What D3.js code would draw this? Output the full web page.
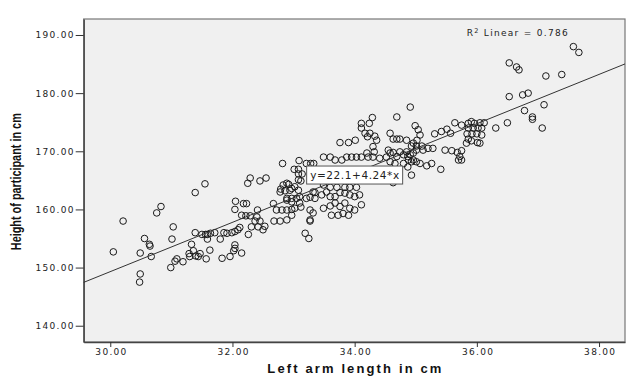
<!DOCTYPE html>
<html>
<head>
<meta charset="utf-8">
<script src="https://cdn.jsdelivr.net/npm/d3@7"></script>
<style>
body { margin: 0; background: #fff; }
</style>
</head>
<body>
<svg id="chart" width="641" height="384"></svg>
<script>
// left arm length (cm) and height (cm), one pair per participant
var armLength = [
  31.55,31.39,30.83,30.76,30.21,31.03,31.39,31.50,31.56,31.59,31.64,31.71,31.86,30.56,31.01,31.59,31.80,30.64,30.65,31.33,
  30.05,30.49,30.67,31.29,31.36,31.40,31.47,31.63,31.09,31.06,31.19,31.57,31.83,30.99,30.49,30.48,31.30,31.44,31.96,
  32.82,33.09,33.21,33.28,33.33,33.01,33.08,33.14,32.29,32.45,32.55,32.25,32.89,32.92,33.08,33.12,32.79,32.86,32.97,33.02,
  33.08,32.89,32.97,33.05,33.10,33.21,33.27,33.35,32.05,32.18,32.23,32.67,32.04,32.41,32.72,32.81,32.89,32.97,33.02,33.10,
  33.12,33.32,32.15,32.22,32.29,32.40,32.97,32.37,32.45,32.68,32.78,33.27,32.31,32.42,32.53,32.50,32.12,32.09,32.04,31.91,
  31.99,32.26,33.19,33.25,32.04,32.04,32.02,32.15,
  34.91,34.69,34.29,34.24,34.11,34.11,34.17,34.25,34.21,34.33,34.36,33.76,33.90,34.01,34.58,34.63,34.69,34.74,34.30,34.32,
  34.20,34.55,34.58,34.74,34.80,34.85,34.91,34.96,35.01,33.49,33.60,33.68,33.79,33.87,33.95,34.03,34.11,34.22,34.30,34.41,
  34.58,34.66,34.80,34.88,34.93,35.01,33.08,34.93,34.63,32.83,32.78,32.94,33.49,33.60,33.71,33.84,33.92,34.03,33.32,33.35,
  33.46,33.54,33.60,33.68,33.76,33.84,33.92,34.00,34.08,32.89,32.97,33.49,33.60,33.68,33.76,33.84,33.92,34.00,34.11,33.27,
  33.27,32.89,33.62,33.73,33.81,33.90,
  36.53,36.53,36.50,34.99,35.04,35.07,35.02,34.96,34.85,35.31,35.42,35.51,35.57,35.64,35.75,35.86,35.91,35.96,36.05,36.12,
  36.31,35.86,35.94,36.02,36.00,35.92,35.84,35.86,35.91,36.01,35.83,34.93,35.01,35.10,35.12,35.20,35.28,35.48,35.59,35.68,
  35.75,35.72,35.75,35.70,34.63,34.87,34.69,34.52,35.07,35.18,35.26,35.41,34.87,34.96,
  37.58,37.67,36.65,36.69,37.13,37.39,36.75,36.84,37.10,36.78,36.91,36.91,37.07,36.08,36.08,36.05
];
var heightCm = [
  164.4,162.9,160.5,159.4,158.0,157.0,156.0,155.7,155.7,155.7,155.9,156.0,156.0,155.0,154.9,154.9,154.9,154.0,153.7,154.0,
  152.7,152.5,151.9,152.4,152.9,152.0,152.4,153.0,151.5,151.1,151.0,151.5,151.6,150.0,148.9,147.5,151.9,151.9,151.9,
  167.9,168.4,167.9,167.9,167.9,166.9,166.1,166.1,165.4,164.9,165.4,164.5,164.5,164.3,165.1,164.9,163.5,163.2,163.6,163.9,
  163.3,161.9,161.9,161.9,162.2,161.9,162.1,162.9,161.4,161.0,161.0,161.0,160.0,159.9,159.9,159.9,159.9,160.0,160.2,161.1,
  160.4,159.4,159.0,158.9,158.9,158.7,159.0,158.0,158.0,158.0,158.0,158.0,157.0,157.0,157.1,156.5,156.9,156.5,156.2,155.9,
  156.0,155.7,155.9,155.0,153.9,153.3,152.9,152.5,
  177.6,175.9,175.8,174.8,174.8,174.0,173.1,173.1,172.5,172.6,171.9,171.5,171.5,171.9,173.1,172.1,172.1,172.1,170.8,169.9,
  169.7,170.2,169.7,169.9,169.4,169.9,169.4,169.7,170.2,169.0,169.0,168.5,168.5,169.0,169.0,169.0,169.0,169.0,169.0,168.8,
  168.2,167.9,167.9,168.5,168.2,168.2,166.9,165.9,164.6,164.2,163.0,163.3,164.2,163.8,163.8,163.8,163.8,163.8,163.0,161.9,
  162.5,163.0,162.2,162.2,162.9,162.8,162.5,162.2,162.5,161.6,161.3,160.2,160.6,161.1,160.5,161.1,160.2,159.9,160.8,159.9,
  158.2,158.2,159.0,159.0,159.3,159.0,
  185.2,179.4,174.9,174.4,173.7,172.8,171.9,171.4,171.9,173.0,173.4,173.8,173.1,174.9,174.5,174.8,175.1,174.8,174.9,174.9,
  174.0,174.0,174.0,174.0,173.0,173.0,173.0,172.1,171.8,171.5,171.4,170.9,170.9,170.9,170.2,170.5,170.5,170.2,170.1,169.8,
  170.1,169.1,168.5,168.5,169.8,169.1,169.1,169.0,167.9,167.5,167.9,166.9,167.3,168.5,
  188.0,187.0,184.5,184.0,182.95,183.2,179.7,180.0,178.0,177.0,175.9,175.5,174.0,174.0,172.8,171.4
];
var xTicks = [30, 32, 34, 36, 38];
var yTicks = [140, 150, 160, 170, 180, 190];
var intercept = 22.1, slope = 4.24, rSquared = 0.786;

var points = armLength.map(function (d, i) { return { x: d, y: heightCm[i] }; });

var plotL = 83.7, plotR = 625, plotT = 19, plotB = 342;
var svg = d3.select('#chart');

var x = d3.scaleLinear().domain([29.565, 38.425]).range([plotL, plotR]);
var y = d3.scaleLinear().domain([137.2, 192.75]).range([plotB, plotT]);

// plot area
svg.append('rect')
  .attr('x', plotL).attr('y', plotT)
  .attr('width', plotR - plotL).attr('height', plotB - plotT)
  .style('fill', '#f0f0f0')
  .style('stroke', '#777')
  .style('stroke-width', 1.2);

// axes
var yAxis = svg.append('g')
  .attr('transform', 'translate(' + plotL + ',0)')
  .call(d3.axisLeft(y).tickValues(yTicks).tickFormat(d3.format('.2f')).tickSize(8).tickSizeOuter(0).tickPadding(1));
var xAxis = svg.append('g')
  .attr('transform', 'translate(0,' + plotB + ')')
  .call(d3.axisBottom(x).tickValues(xTicks).tickFormat(d3.format('.2f')).tickSize(5).tickSizeOuter(0).tickPadding(2));

[xAxis, yAxis].forEach(function (g) {
  g.select('.domain').style('stroke', '#444').style('stroke-width', 1.4);
  g.selectAll('.tick line').style('stroke', '#333');
  g.selectAll('.tick text')
    .style('font-family', 'DejaVu Sans, sans-serif')
    .style('font-size', '9px')
    .style('letter-spacing', '1.3px')
    .style('fill', '#222');
});
xAxis.selectAll('.tick text').attr('dx', '0.7');

// points
svg.append('g').selectAll('circle')
  .data(points)
  .enter()
  .append('circle')
  .attr('cx', function (d) { return x(d.x); })
  .attr('cy', function (d) { return y(d.y); })
  .attr('r', 3.3)
  .style('fill', 'none')
  .style('stroke', '#1a1a1a')
  .style('stroke-width', 1);

// fit line
var line = d3.line()
  .x(function (d) { return x(d); })
  .y(function (d) { return y(intercept + slope * d); });
svg.append('path')
  .datum(x.domain())
  .attr('d', line)
  .style('fill', 'none')
  .style('stroke', '#333')
  .style('stroke-width', 1);

// equation label
var eqX = 34.0;
var eqG = svg.append('g')
  .attr('transform', 'translate(' + x(eqX) + ',' + (y(intercept + slope * eqX) + 2) + ')');
eqG.append('rect')
  .attr('x', -48).attr('y', -9).attr('width', 96).attr('height', 18)
  .style('fill', '#fff').style('stroke', '#555').style('stroke-width', 1);
eqG.append('text')
  .attr('text-anchor', 'middle')
  .attr('dy', '0.36em')
  .attr('textLength', 89).attr('lengthAdjust', 'spacing')
  .style('font-family', 'DejaVu Sans, sans-serif')
  .style('font-size', '10.5px')
  .style('fill', '#222')
  .text('y=' + intercept + '+' + slope + '*x');

// R squared
var r2 = svg.append('text')
  .attr('x', 466.7).attr('y', 36)
  .style('font-family', 'DejaVu Sans, sans-serif')
  .style('font-size', '9px')
  .style('letter-spacing', '1.3px')
  .style('fill', '#222');
r2.append('tspan').text('R');
r2.append('tspan').attr('dy', -3.5).style('font-size', '6.5px').text('2');
r2.append('tspan').attr('dy', 3.5).text(' Linear = ' + rSquared);

// axis titles
svg.append('text')
  .attr('x', (plotL + plotR) / 2).attr('y', 373)
  .attr('text-anchor', 'middle')
  .attr('textLength', 174).attr('lengthAdjust', 'spacing')
  .style('font-family', 'Liberation Sans, Arial, sans-serif')
  .style('font-weight', 'bold')
  .style('font-size', '13px')
  .style('fill', '#111')
  .text('Left arm length in cm');

svg.append('text')
  .attr('transform', 'translate(21,181.7) rotate(-90)')
  .attr('text-anchor', 'middle')
  .attr('textLength', 137).attr('lengthAdjust', 'spacingAndGlyphs')
  .style('font-family', 'Liberation Sans Narrow, Liberation Sans, Arial, sans-serif')
  .style('font-weight', 'bold')
  .style('font-size', '14px')
  .style('fill', '#111')
  .text('Height of participant in cm');
</script>
</body>
</html>
